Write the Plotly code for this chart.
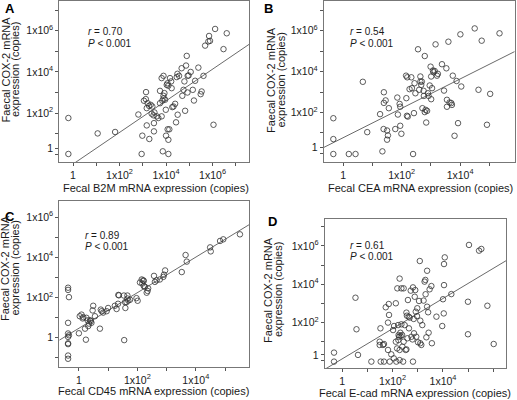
import numpy as np
import plotly.graph_objects as go

# ---------------- data (log10 of copies) ----------------
# Panel A: B2M vs COX-2
b2m_log10 = [-0.20, -0.20, 1.06, 1.81, 2.81, 3.13, 3.05, 3.14, 3.21, 3.17, 3.27, 3.34, 3.41, 3.38,
             3.46, 3.50, 3.17, 2.98, 2.95, 3.48, 3.48, 3.28, 3.60, 3.67, 3.74, 3.81, 3.74, 3.84,
             3.89, 3.81, 3.89, 3.89, 3.93, 3.96, 3.99, 4.00, 4.07, 4.10, 4.10, 3.86, 4.14, 4.03,
             4.06, 4.10, 4.17, 4.22, 4.24, 4.27, 4.32, 4.39, 4.43, 4.46, 4.50, 4.49, 4.56, 4.67,
             4.70, 4.75, 4.79, 4.82, 4.86, 4.89, 4.92, 4.93, 4.97, 5.06, 5.15, 5.20, 5.25, 5.39,
             5.49, 5.53, 5.61, 5.68, 5.82, 5.85, 5.89, 6.04, 6.11, 6.47, 6.61]
cox2_a_log10 = [1.76, 0.01, 1.01, 1.08, 1.93, 2.68, 2.60, 3.02, 2.48, 2.24, 2.35, 2.40, 2.32, 1.97,
                1.89, 2.03, 1.40, 0.90, 0.01, 1.51, 1.11, 0.74, 1.84, 1.76, 2.48, 1.84, 3.08, 2.60,
                2.84, 3.70, 3.81, 2.71, 2.97, 2.65, 2.16, 0.90, 1.21, 0.70, 0.01, 0.14, 1.21, 3.37,
                3.45, 3.33, 3.70, 3.54, 3.21, 2.29, 2.32, 2.45, 1.55, 3.75, 1.92, 3.91, 3.81, 4.18,
                2.84, 3.13, 3.54, 2.11, 4.31, 4.78, 3.00, 3.81, 3.83, 4.00, 3.13, 2.61, 3.57, 4.21,
                2.92, 3.05, 3.81, 5.28, 5.48, 5.75, 5.51, 1.43, 6.09, 5.11, 5.88]

# Panel B: CEA vs COX-2
cea_log10 = [-0.34, -0.34, -0.34, 0.19, 0.42, 0.67, 0.82, 1.26, 1.34, 1.39, 1.39, 1.38, 1.45, 1.50,
             1.50, 1.53, 1.56, 1.78, 1.85, 1.87, 1.93, 1.95, 1.95, 1.99, 2.15, 2.16, 2.18, 2.19,
             2.21, 2.27, 2.33, 2.35, 2.39, 2.42, 2.44, 2.47, 2.56, 2.60, 2.64, 2.64, 2.67, 2.69,
             2.71, 2.75, 2.76, 2.79, 2.79, 2.82, 2.84, 2.87, 2.90, 2.92, 2.96, 2.99, 3.01, 3.01,
             3.07, 3.04, 3.09, 3.13, 3.16, 3.21, 3.24, 3.38, 3.45, 3.53, 3.55, 3.55, 3.60, 3.64,
             3.70, 3.72, 3.75, 3.81, 3.88, 3.93, 4.01, 4.04, 4.50, 4.63, 4.74, 4.92, 5.03, 5.35]
cox2_b_log10 = [1.72, 0.70, -0.03, -0.03, -0.03, 3.50, 1.04, 1.92, 0.10, 2.47, 2.99, 1.19, 2.59, 1.12,
                0.67, 0.88, 2.21, 1.19, 2.73, 1.90, 2.42, 2.28, 1.35, 0.96, 3.80, 2.70, 1.84, 3.72,
                1.80, 3.14, 3.72, 3.19, -0.03, 1.97, 3.43, 2.94, 5.09, 3.11, 3.76, 3.51, 3.35, 3.51,
                2.21, 3.06, 2.81, 4.76, 2.02, 2.13, 1.51, 2.08, 2.94, 2.81, 3.32, 4.24, 2.65, 3.76,
                4.05, 3.19, 3.97, 4.03, 5.33, 3.80, 3.89, 4.36, 3.07, 4.16, 2.62, 2.28, 5.46, 2.49,
                2.46, 2.37, 3.80, 0.86, 3.54, 1.48, 5.82, 3.27, 6.11, 3.11, 5.51, 1.40, 2.91, 5.87]

# Panel C: CD45 vs COX-2
cd45_log10 = [-0.37, -0.37, -0.34, -0.37, -0.37, -0.34, -0.37, -0.37, -0.37, -0.37, -0.37, 0.00,
              0.03, 0.09, 0.13, 0.15, 0.21, 0.24, 0.26, 0.30, 0.32, 0.35, 0.38, 0.41, 0.43, 0.47,
              0.49, 0.55, 0.72, 0.75, 0.78, 0.83, 0.95, 1.00, 1.23, 1.29, 1.34, 1.35, 1.37, 1.54,
              1.55, 1.58, 1.59, 1.63, 1.66, 1.69, 1.66, 1.75, 1.97, 2.01, 2.09, 2.15, 2.17, 2.20,
              2.22, 2.22, 2.26, 2.32, 2.37, 2.35, 2.57, 2.60, 2.66, 2.77, 2.89, 2.91, 2.95, 3.52,
              3.65, 3.69, 4.49, 4.51, 4.83, 4.94, 5.51]
cox2_c_log10 = [2.48, 2.37, 2.01, 0.73, 0.20, 0.11, 0.03, -0.29, -0.33, -0.90, -1.06, 0.21,
                1.06, 1.14, 0.95, 1.01, 0.44, -0.11, 0.98, 0.85, 0.57, 0.69, 0.86, 0.82, 0.73, 1.35,
                1.58, 1.06, 0.44, 1.39, 1.31, 1.24, 1.31, 1.47, 1.58, 1.42, 1.68, 2.12, 2.10, 2.09,
                -0.13, 1.76, 1.47, 1.76, 1.94, 1.84, 2.09, 1.88, 1.96, 1.83, 2.74, 2.89, 2.69, 2.85,
                2.82, 2.56, 2.53, 2.23, 2.45, 2.32, 3.07, 2.77, 2.85, 2.89, 3.02, 3.13, 3.34, 3.26,
                4.11, 3.78, 4.49, 4.29, 4.81, 4.89, 5.14]

# Panel D: E-cad vs COX-2
ecad_log10 = [-0.32, -0.32, 0.53, 0.57, 0.63, 1.16, 1.49, 1.52, 1.49, 1.62, 1.66, 1.53, 1.66, 1.73,
              1.82, 1.85, 1.86, 1.82, 1.89, 1.95, 2.02, 2.06, 2.05, 2.13, 2.13, 2.15, 2.18, 2.19,
              2.22, 2.23, 2.24, 2.26, 2.28, 2.28, 2.28, 2.31, 2.32, 2.35, 2.35, 2.38, 2.39, 2.42,
              2.44, 2.44, 2.48, 2.52, 2.55, 2.55, 2.57, 2.59, 2.61, 2.64, 2.65, 2.68, 2.72, 2.75,
              2.79, 2.81, 2.81, 2.84, 2.85, 2.88, 2.90, 2.92, 2.94, 2.97, 2.98, 3.01, 3.05, 3.08,
              3.10, 3.10, 3.14, 3.18, 3.23, 3.27, 3.30, 3.31, 3.34, 3.37, 3.37, 3.41, 3.43, 3.47,
              3.54, 3.56, 3.74, 3.97, 4.00, 4.03, 4.04, 4.04, 4.07, 4.33, 4.99, 4.99, 5.03, 5.43,
              5.52, 5.76, 6.01]
cox2_d_log10 = [0.42, -0.05, 3.29, 1.64, 0.30, -0.05, 0.99, 1.69, 0.82, 0.82, 0.87, -0.05, -0.05, 2.79,
                0.56, 2.96, 2.39, 1.99, -0.05, 0.33, 1.60, 1.81, 0.12, 3.00, 0.99, -0.05, 0.64, 3.78,
                1.86, 1.08, 1.34, 1.25, 0.56, 0.03, 4.29, 1.46, 1.29, 1.90, 3.78, 1.34, 0.73, -0.05,
                3.78, 0.99, 1.86, 0.56, 0.59, 2.51, 2.35, 1.17, 3.17, 2.30, 1.69, 2.25, 3.66, 1.25,
                1.11, -0.05, 3.83, 2.18, 1.43, 3.34, 3.69, 2.56, 1.25, 2.33, 2.74, 0.96, 3.12, 5.21,
                2.09, 0.91, 0.82, 1.86, 3.14, 4.13, 4.22, 3.47, 1.22, 4.70, 2.82, 2.53, 1.46, 3.73,
                3.90, 0.91, 2.30, 1.81, 3.21, 2.47, 5.05, 3.95, 5.40, 3.48, 3.08, 1.38, 6.05, 5.75,
                5.84, 2.87, 0.87]

# regression lines in log10 space: (slope, intercept)
fit_a = (0.769, -0.48)
fit_b = (0.717, 0.77)
fit_c = (0.886, 0.46)
fit_d = (0.790, 0.09)

stats_a = ("0.70", "0.001")
stats_b = ("0.54", "0.001")
stats_c = ("0.89", "0.001")
stats_d = ("0.61", "0.001")

x_titles = ["Fecal B2M mRNA expression (copies)", "Fecal CEA mRNA expression (copies)",
            "Fecal CD45 mRNA expression (copies)", "Fecal E-cad mRNA expression (copies)"]
y_title_lines = ["Faecal COX-2 mRNA", "expression (copies)"]
panel_letters = ["A", "B", "C", "D"]

# ---------------- figure ----------------
W, H = 517, 400
FONT = "Liberation Sans, Arial, sans-serif"
TXT = "#1a1a1a"


def px(v):
    return v / W


def py(v):
    return 1 - v / H


def sup(k):
    return "1" if k == 0 else f"1x10<sup>{k}</sup>"


def major(labelled, one_at_two=False):
    vals, text = [], []
    for k in labelled:
        if k == 0 and one_at_two:
            vals.append(2.0)
        else:
            vals.append(10.0 ** k)
        text.append(sup(k))
    return vals, text


def minor(lo, hi):
    return [10.0 ** k for k in range(lo, hi + 1)]


panels = [
    dict(x=b2m_log10, y=cox2_a_log10, fit=fit_a, st=stats_a,
         box=(59.3, 249.3, 1, 162), xr=[-0.59, 7.58], yr=[-0.38, 7.45],
         xt=major([0, 2, 4, 6]), yt=major([0, 2, 4, 6], True), xm=minor(0, 7), ym=minor(0, 7),
         stat_xy=(86, 32), letter_xy=(3, 8), xt_xy=(156, 188), yt_xy=(5.5, 15, 70)),
    dict(x=cea_log10, y=cox2_b_log10, fit=fit_b, st=stats_b,
         box=(323.7, 514.7, 1, 162), xr=[-0.67, 5.87], yr=[-0.42, 7.45],
         xt=major([0, 2, 4]), yt=major([0, 2, 4, 6], True), xm=minor(0, 5), ym=minor(0, 7),
         stat_xy=(348, 32), letter_xy=(262, 8), xt_xy=(420, 188), yt_xy=(271, 280.5, 80)),
    dict(x=cd45_log10, y=cox2_c_log10, fit=fit_c, st=stats_c,
         box=(59.3, 249.3, 201, 367), xr=[-0.67, 5.83], yr=[-1.47, 6.80],
         xt=major([0, 2, 4]), yt=major([0, 2, 4, 6]), xm=minor(0, 5), ym=minor(-1, 6),
         stat_xy=(83, 235), letter_xy=(3, 216), xt_xy=(153, 391), yt_xy=(5, 14.5, 268)),
    dict(x=ecad_log10, y=cox2_d_log10, fit=fit_d, st=stats_d,
         box=(324.7, 506.3, 219.3, 368.3), xr=[-0.69, 6.51], yr=[-0.40, 7.39],
         xt=major([0, 2, 4]), yt=major([0, 2, 4, 6], True), xm=minor(0, 6), ym=minor(0, 7),
         stat_xy=(348, 245), letter_xy=(266, 221), xt_xy=(415, 393), yt_xy=(268, 278, 290)),
]

fig = go.Figure()
annotations = []
layout_axes = {}

for i, p in enumerate(panels):
    n = "" if i == 0 else str(i + 1)
    xa, ya = "x" + n, "y" + n
    x0, x1, y0, y1 = p["box"]

    fig.add_trace(go.Scatter(
        x=10 ** np.array(p["x"]), y=10 ** np.array(p["y"]), mode="markers",
        marker=dict(symbol="circle-open", size=5.5, color="#333333", line=dict(width=0.8)),
        xaxis=xa, yaxis=ya, hoverinfo="skip"))

    slope, icpt = p["fit"]
    lx = np.array(p["xr"])
    fig.add_trace(go.Scatter(
        x=10 ** lx, y=10 ** (icpt + slope * lx), mode="lines",
        line=dict(color="#444444", width=0.8), xaxis=xa, yaxis=ya, hoverinfo="skip"))

    common = dict(type="log", showgrid=False, zeroline=False, showline=True, mirror=True,
                  linecolor="#777777", linewidth=1, ticks="outside", ticklen=3, tickwidth=1,
                  tickcolor="#555555", tickmode="array",
                  tickfont=dict(family=FONT, size=10.5, color=TXT))
    layout_axes["xaxis" + n] = dict(common, domain=[px(x0), px(x1)], anchor=ya, range=p["xr"],
                                    tickvals=p["xt"][0], ticktext=p["xt"][1],
                                    minor=dict(tickmode="array", tickvals=p["xm"], ticks="outside",
                                               ticklen=3, tickwidth=1, tickcolor="#555555",
                                               showgrid=False))
    layout_axes["yaxis" + n] = dict(common, domain=[py(y1), py(y0)], anchor=xa, range=p["yr"],
                                    tickvals=p["yt"][0], ticktext=p["yt"][1],
                                    minor=dict(tickmode="array", tickvals=p["ym"], ticks="outside",
                                               ticklen=3, tickwidth=1, tickcolor="#555555",
                                               showgrid=False))

    sx, sy = p["stat_xy"]
    annotations.append(dict(x=px(sx), y=py(sy), xref="paper", yref="paper", showarrow=False,
                            xanchor="left", yanchor="middle", align="left",
                            text=f"<i>r</i> = {p['st'][0]}",
                            font=dict(family=FONT, size=10, color=TXT)))
    annotations.append(dict(x=px(sx), y=py(sy + 11), xref="paper", yref="paper", showarrow=False,
                            xanchor="left", yanchor="middle", align="left",
                            text=f"<i>P</i> &lt; {p['st'][1]}",
                            font=dict(family=FONT, size=10, color=TXT)))
    lx0, ly0 = p["letter_xy"]
    annotations.append(dict(x=px(lx0), y=py(ly0), xref="paper", yref="paper", showarrow=False,
                            xanchor="left", yanchor="middle", text=f"<b>{panel_letters[i]}</b>",
                            font=dict(family=FONT, size=13, color="#000000")))
    tx, ty = p["xt_xy"]
    annotations.append(dict(x=px(tx), y=py(ty), xref="paper", yref="paper", showarrow=False,
                            xanchor="center", yanchor="middle", text=x_titles[i],
                            font=dict(family=FONT, size=11, color=TXT)))
    yx1, yx2, yc = p["yt_xy"]
    for line, xx in zip(y_title_lines, (yx1, yx2)):
        annotations.append(dict(x=px(xx), y=py(yc), xref="paper", yref="paper", showarrow=False,
                                xanchor="center", yanchor="middle", textangle=-90, text=line,
                                font=dict(family=FONT, size=11, color=TXT)))

fig.update_layout(
    width=W, height=H, margin=dict(l=0, r=0, t=0, b=0),
    paper_bgcolor="white", plot_bgcolor="white", showlegend=False,
    font=dict(family=FONT, color=TXT),
    annotations=annotations, **layout_axes)

fig.write_html("out.html", config={"displayModeBar": False},
               post_script="document.body.style.margin='0';")
